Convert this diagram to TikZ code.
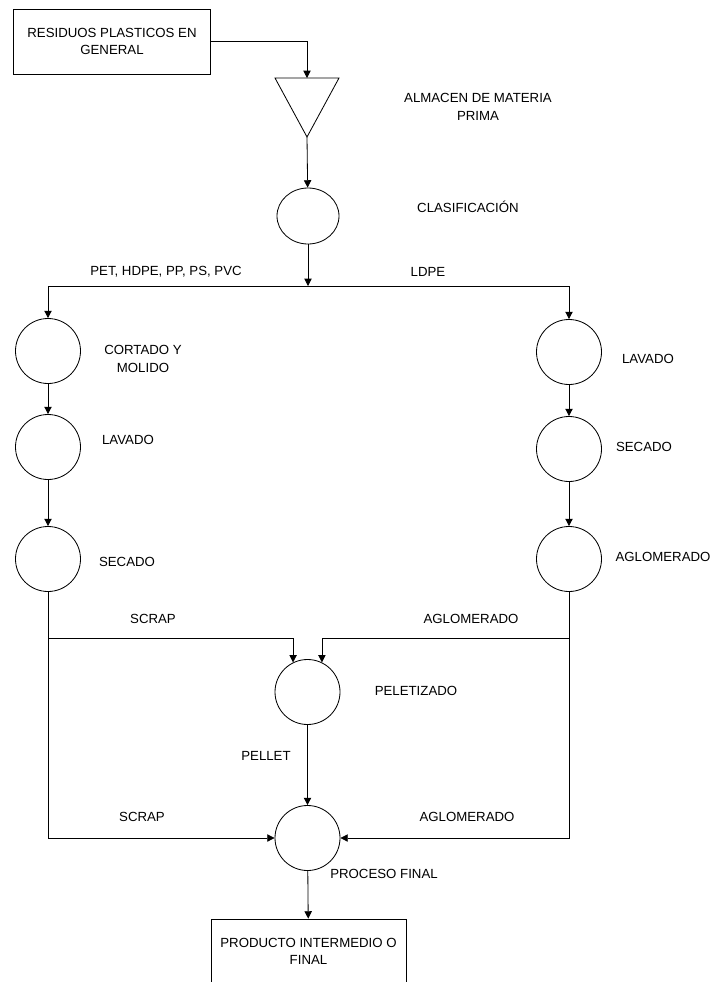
\documentclass[tikz,border=0pt]{standalone}
\usepackage{fontspec}
\setmainfont{Liberation Sans}
\usepackage{tikz}
\usetikzlibrary{arrows.meta,shapes.geometric}

\tikzset{
  flujo/.style={line width=0.7pt},
  flecha/.style={flujo,-{Triangle[length=2.2mm,width=2.2mm]}},
  caja/.style={draw,line width=0.7pt,rectangle,align=center,minimum width=5.91cm,minimum height=1.95cm},
  proceso/.style={draw,line width=0.7pt,ellipse,minimum width=1.95cm,minimum height=1.95cm,inner sep=0pt},
  rotulo/.style={align=center,inner sep=0pt}
}

\begin{document}
\begin{tikzpicture}[x=0.03cm,y=-0.03cm,font=\fontsize{11.3}{15}\selectfont]
			\useasboundingbox (0,0) rectangle (718,982);
			\clip (0,0) rectangle (718,982);
			% Entrada y almacen
			\node[caja] (residuos) at (112,41.5) {RESIDUOS PLASTICOS EN\\GENERAL};
			\coordinate (almTop) at (307,78);
			\coordinate (almBot) at (307,137);
			\draw[flujo] (275,78) -- (339,78) -- (almBot) -- cycle;
			\node[proceso,minimum width=1.86cm,minimum height=1.68cm] (clas) at (308,216) {};
			\coordinate (rama) at (308,286);
			% Columna izquierda
			\node[proceso] (cortado) at (48,351) {};
			\node[proceso] (lavadoI) at (48,447) {};
			\node[proceso] (secadoI) at (48,559) {};
			% Columna derecha
			\node[proceso] (lavadoD) at (569,352) {};
			\node[proceso] (secadoD) at (569,449) {};
			\node[proceso] (aglomD) at (569,559) {};
			% Centro
			\node[proceso] (pelet) at (307.5,692) {};
			\node[proceso] (final) at (307.5,838) {};
			\node[caja,minimum width=5.85cm] (producto) at (308.5,951.5) {PRODUCTO INTERMEDIO O\\FINAL};
			\coordinate (scrapI) at (48,638);
			\coordinate (aglomS) at (569,638);
			% Flechas
			\draw[flecha] (residuos.east) -| (almTop);
			\draw[flecha] (almBot) -- (clas);
			\draw[flecha] (clas) -- (rama);
			\draw[flecha] (rama) -| (cortado);
			\draw[flecha] (rama) -| (lavadoD);
			\draw[flecha] (cortado) -- (lavadoI);
			\draw[flecha] (lavadoI) -- (secadoI);
			\draw[flecha] (lavadoD) -- (secadoD);
			\draw[flecha] (secadoD) -- (aglomD);
			\draw[flecha] (secadoI) |- (final);
			\draw[flecha] (aglomD) |- (final);
			\draw[flecha] (scrapI) -| (pelet.116);
			\draw[flecha] (aglomS) -| (pelet.64);
			\draw[flecha] (pelet) -- (final);
			\draw[flecha] (final) -- (producto);
			% Rotulos
			\node[rotulo] (tAlm) at (478,107) {ALMACEN DE MATERIA\\PRIMA};
			\node[rotulo] (tClas) at (468,207) {CLASIFICACIÓN};
			\node[rotulo] (tPet) at (166,272) {PET, HDPE, PP, PS, PVC};
			\node[rotulo] (tLdpe) at (428,272) {LDPE};
			\node[rotulo] (tCort) at (143,359) {CORTADO Y\\MOLIDO};
			\node[rotulo] (tLavI) at (128,440) {LAVADO};
			\node[rotulo] (tSecI) at (127,562) {SECADO};
			\node[rotulo] (tLavD) at (648,359) {LAVADO};
			\node[rotulo] (tSecD) at (644,447) {SECADO};
			\node[rotulo] (tAglD) at (663,557) {AGLOMERADO};
			\node[rotulo] (tScrap1) at (153,619) {SCRAP};
			\node[rotulo] (tAgl1) at (471,619) {AGLOMERADO};
			\node[rotulo] (tPel) at (416,691) {PELETIZADO};
			\node[rotulo] (tPellet) at (266,756) {PELLET};
			\node[rotulo] (tScrap2) at (142,817) {SCRAP};
			\node[rotulo] (tAgl2) at (467,817) {AGLOMERADO};
			\node[rotulo] (tFinal) at (384,874) {PROCESO FINAL};
		\end{tikzpicture}
\end{document}
